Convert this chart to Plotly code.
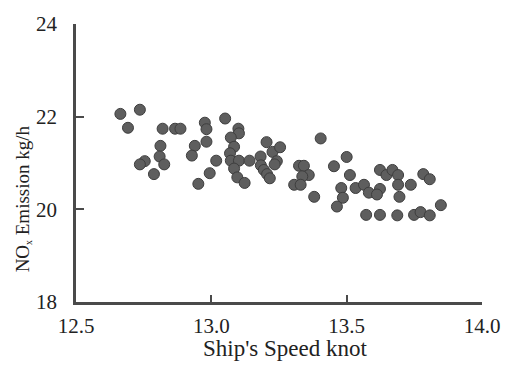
import plotly.graph_objects as go

speed = [12.664, 12.736, 12.692, 12.82, 12.866, 12.886, 12.812, 12.809, 12.826, 12.754,
         12.736, 12.788, 12.939, 12.928, 12.952, 12.976, 12.982, 12.982, 13.051, 13.10,
         13.102, 13.072, 13.084, 13.069, 13.018, 12.994, 13.072, 13.102, 13.084, 13.096,
         13.123, 13.141, 13.182, 13.183, 13.194, 13.206, 13.216, 13.204, 13.226, 13.254,
         13.242, 13.234, 13.404, 13.324, 13.342, 13.36, 13.336, 13.306, 13.33, 13.453,
         13.50, 13.512, 13.38, 13.48, 13.486, 13.464, 13.533, 13.564, 13.582, 13.623,
         13.612, 13.623, 13.647, 13.669, 13.69, 13.69, 13.737, 13.695, 13.783, 13.807,
         13.572, 13.623, 13.687, 13.749, 13.773, 13.807, 13.848]
nox = [22.06, 22.15, 21.76, 21.74, 21.74, 21.74, 21.37, 21.14, 20.97, 21.04,
       20.97, 20.76, 21.37, 21.16, 20.55, 21.87, 21.73, 21.46, 21.96, 21.74,
       21.64, 21.55, 21.35, 21.21, 21.05, 20.78, 21.05, 21.05, 20.88, 20.69,
       20.57, 21.05, 21.14, 20.95, 20.85, 20.76, 20.67, 21.45, 21.24, 21.34,
       21.04, 20.97, 21.53, 20.94, 20.94, 20.74, 20.71, 20.53, 20.53, 20.93,
       21.13, 20.74, 20.27, 20.46, 20.25, 20.06, 20.46, 20.53, 20.36, 20.44,
       20.32, 20.85, 20.74, 20.85, 20.74, 20.53, 20.53, 20.27, 20.76, 20.65,
       19.88, 19.88, 19.87, 19.88, 19.94, 19.87, 20.09]

x_ticks = [12.5, 13.0, 13.5, 14.0]
x_labels = ["12.5", "13.0", "13.5", "14.0"]
y_ticks = [18, 20, 22, 24]
y_labels = ["18", "20", "22", "24"]

FONT = "Liberation Serif"

fig = go.Figure()
fig.add_trace(go.Scatter(
    x=speed, y=nox, mode="markers",
    marker=dict(size=11, color="#5e5e5e", line=dict(color="#3e3e3e", width=1)),
    showlegend=False,
))

tick_font = dict(family=FONT, size=21, color="#222222")

fig.update_layout(
    xaxis=dict(range=[12.5, 14.0], tickmode="array", tickvals=x_ticks, ticktext=x_labels,
               ticklen=7, ticklabelstandoff=3,
               showline=True, linecolor="#4a4a4a", linewidth=2.5,
               ticks="inside", tickcolor="#4a4a4a", tickwidth=2,
               showgrid=False, zeroline=False, tickfont=tick_font),
    yaxis=dict(range=[18, 24], tickmode="array", tickvals=y_ticks, ticktext=y_labels,
               ticklen=8, ticklabelstandoff=12,
               showline=True, linecolor="#4a4a4a", linewidth=2.5,
               ticks="inside", tickcolor="#4a4a4a", tickwidth=2,
               showgrid=False, zeroline=False, tickfont=tick_font),
)

fig.add_annotation(text="Ship's Speed knot", xref="paper", yref="paper",
                   x=0.515, y=-0.115, yanchor="top", showarrow=False,
                   font=dict(family=FONT, size=23, color="#222222"))
fig.add_annotation(text="NO<span style='font-size:14px'><sub>x</sub></span> Emission kg/h",
                   xref="paper", yref="paper",
                   x=-0.13, y=0.37, xanchor="center", yanchor="middle", textangle=-90,
                   showarrow=False,
                   font=dict(family=FONT, size=19, color="#222222"))

fig.update_layout(width=512, height=374,
                  margin=dict(l=76, r=19, t=20, b=72),
                  font=dict(family=FONT, color="#222222"),
                  plot_bgcolor="white", paper_bgcolor="white")

fig.write_html("out.html")
